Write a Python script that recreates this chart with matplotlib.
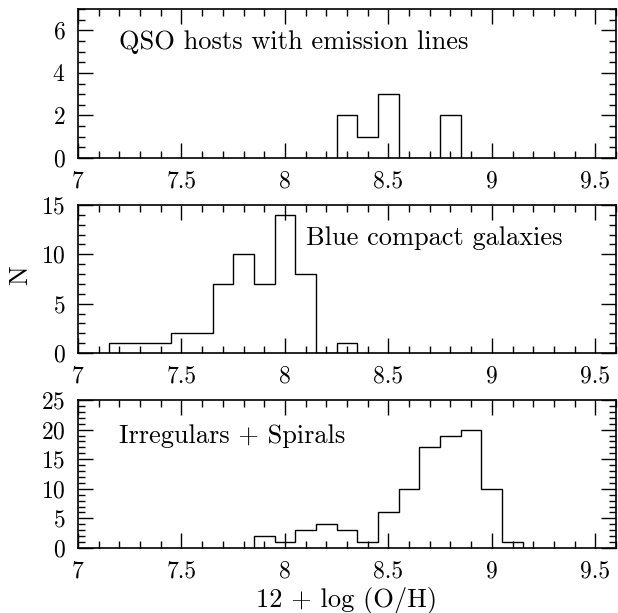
import numpy as np
import matplotlib
matplotlib.use("Agg")
import matplotlib.pyplot as plt
from matplotlib.ticker import MultipleLocator

# Oxygen abundance histograms, 0.1 dex bins (bin centres and counts)
qso_centers = [8.3, 8.4, 8.5, 8.6, 8.7, 8.8]
qso_counts = [2, 1, 3, 0, 0, 2]

bcg_centers = [7.2, 7.3, 7.4, 7.5, 7.6, 7.7, 7.8, 7.9, 8.0, 8.1, 8.2, 8.3]
bcg_counts = [1, 1, 1, 2, 2, 7, 10, 7, 14, 8, 0, 1]

irr_centers = [7.9, 8.0, 8.1, 8.2, 8.3, 8.4, 8.5, 8.6, 8.7, 8.8, 8.9, 9.0, 9.1]
irr_counts = [2, 1, 3, 4, 3, 1, 6, 10, 17, 19, 20, 10, 1]

bin_width = 0.1
x_ticks = [7, 7.5, 8, 8.5, 9, 9.5]
x_tick_labels = ["7", "7.5", "8", "8.5", "9", "9.5"]

plt.rcParams["font.family"] = "serif"
plt.rcParams["font.serif"] = ["cmr10"]
plt.rcParams["axes.formatter.use_mathtext"] = True
plt.rcParams["mathtext.fontset"] = "cm"

fig = plt.figure(figsize=(6.18, 6.13), dpi=100)

W, H = 618.0, 613.0
left, right = 78, 616
panels = [
    # (top px, bottom px, ymax, major, minor, centers, counts, label, label pos)
    (9, 158, 7, 2, 0.5, qso_centers, qso_counts,
     "QSO hosts with emission lines", (7.2, 5.13)),
    (205, 353, 15, 5, 1, bcg_centers, bcg_counts,
     "Blue compact galaxies", (8.1, 10.9)),
    (400, 548, 25, 5, 1, irr_centers, irr_counts,
     "Irregulars + Spirals", (7.2, 17.7)),
]

TICK_FS = 17
TEXT_FS = 19
for top, bot, ymax, maj, mnr, centers, counts, label, (tx, ty) in panels:
    ax = fig.add_axes([left / W, 1 - bot / H, (right - left) / W, (bot - top) / H])
    centers = np.asarray(centers)
    edges = np.append(centers - bin_width / 2, centers[-1] + bin_width / 2)
    ax.hist(centers, bins=edges, weights=counts, histtype="step",
            color="black", linewidth=1.0)
    ax.set_xlim(7, 9.6)
    ax.set_ylim(0, ymax)
    ax.set_xticks(x_ticks)
    ax.set_xticklabels(x_tick_labels)
    ax.xaxis.set_minor_locator(MultipleLocator(0.1))
    ax.yaxis.set_major_locator(MultipleLocator(maj))
    ax.yaxis.set_minor_locator(MultipleLocator(mnr))
    ax.tick_params(which="both", direction="in", top=True, right=True,
                   labelsize=TICK_FS, width=1.0, color="black")
    ax.tick_params(which="major", length=10.5)
    ax.tick_params(which="minor", length=5)
    ax.tick_params(axis="x", which="major", pad=9)
    ax.tick_params(axis="y", which="major", pad=9)
    for s in ax.spines.values():
        s.set_linewidth(1.2)
    ax.text(tx, ty, label, fontsize=TEXT_FS, va="baseline", ha="left")
    last = ax

fig.text(20 / W, 1 - 275 / H, "N", fontsize=TEXT_FS, rotation=90,
         ha="center", va="center")
fig.text((left + right) / 2 / W, 1 - 600 / H, "12 + log (O/H)",
         fontsize=TEXT_FS, ha="center", va="center")

fig.savefig("out.png", dpi=100)
